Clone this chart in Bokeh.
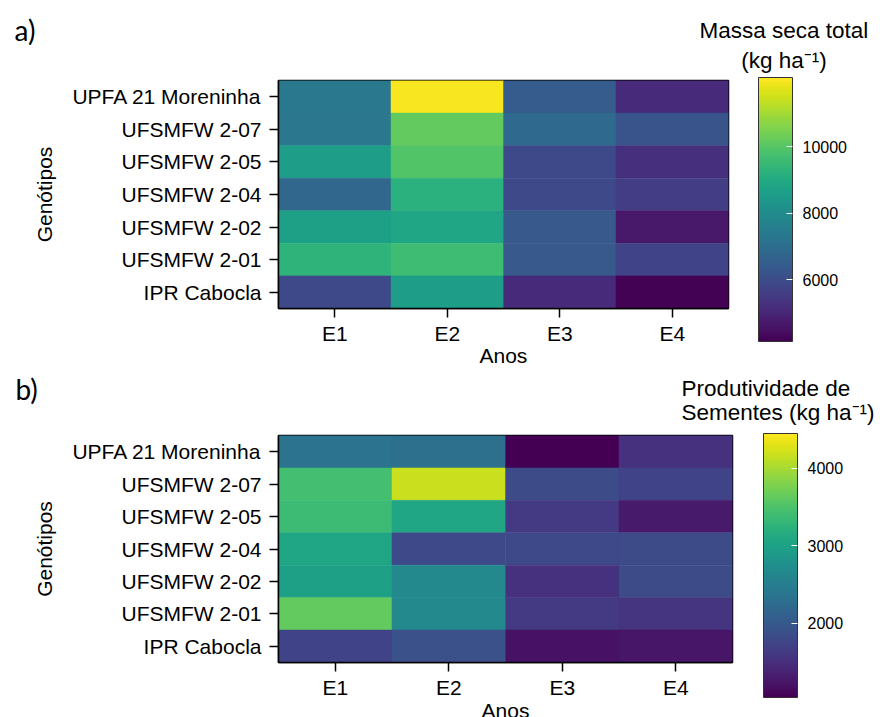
from bokeh.plotting import figure
from bokeh.models import ColorBar, LinearColorMapper, FixedTicker, FactorRange, ColumnDataSource
from bokeh.layouts import column
from bokeh.palettes import Viridis256
from bokeh.embed import file_html
from bokeh.resources import INLINE

genotypes = ["UPFA 21 Moreninha", "UFSMFW 2-07", "UFSMFW 2-05", "UFSMFW 2-04",
             "UFSMFW 2-02", "UFSMFW 2-01", "IPR Cabocla"]
years = ["E1", "E2", "E3", "E4"]

# a) Massa seca total (kg ha-1), rows in genotype order
massa_E1 = [7320, 7300, 8590, 6770, 8670, 9300, 5900]
massa_E2 = [12000, 10180, 9940, 9230, 8830, 9620, 8590]
massa_E3 = [6450, 6850, 5900, 5900, 6370, 6370, 5100]
massa_E4 = [5100, 6210, 5260, 5580, 4700, 5740, 4200]
massa_range = [4150, 12080]
massa_ticks = [6000, 8000, 10000]

# b) Produtividade de sementes (kg ha-1)
prod_E1 = [2340, 3430, 3380, 3050, 2980, 3630, 1720]
prod_E2 = [2300, 4180, 3050, 1790, 2640, 2640, 1890]
prod_E3 = [1050, 1820, 1620, 1790, 1520, 1620, 1210]
prod_E4 = [1520, 1720, 1280, 1820, 1820, 1550, 1240]
prod_range = [1040, 4450]
prod_ticks = [2000, 3000, 4000]

FONT = "Liberation Sans"


def make_source(cols):
    xs, ys, vs = [], [], []
    for yr, col in zip(years, cols):
        for g, v in zip(genotypes, col):
            xs.append(yr)
            ys.append(g)
            vs.append(v)
    return ColumnDataSource(dict(x=xs, y=ys, v=vs))


def heat(cols, rng, left, fw, fh, top, bottom, right, xlabel):
    p = figure(x_range=FactorRange(*years), y_range=FactorRange(*genotypes[::-1]),
               frame_width=fw, frame_height=fh, min_border_left=left,
               min_border_top=top, min_border_bottom=bottom, min_border_right=right,
               toolbar_location=None, output_backend="svg", tools="")
    mapper = LinearColorMapper(palette=Viridis256, low=rng[0], high=rng[1])
    src = make_source(cols)
    p.rect(x="x", y="y", width=1, height=1, source=src,
           fill_color={"field": "v", "transform": mapper},
           line_color={"field": "v", "transform": mapper}, line_width=0.5)
    p.xgrid.visible = False
    p.ygrid.visible = False
    p.outline_line_color = "black"
    p.outline_line_width = 1.5
    p.outline_line_alpha = 1
    for ax in (p.xaxis[0], p.yaxis[0]):
        ax.axis_line_color = "black"
        ax.axis_line_width = 1.5
        ax.major_tick_line_color = "black"
        ax.major_tick_line_width = 1.5
        ax.major_tick_in = 0
        ax.major_tick_out = 9
        ax.minor_tick_line_color = None
        ax.major_label_text_font = FONT
        ax.major_label_text_font_size = "21px"
        ax.major_label_text_color = "black"
        ax.axis_label_text_font = FONT
        ax.axis_label_text_font_size = "21px"
        ax.axis_label_text_font_style = "normal"
        ax.axis_label_text_color = "black"
    p.xaxis.major_label_standoff = 4
    p.yaxis.major_label_standoff = 8
    p.yaxis.axis_label = "Genótipos"
    p.yaxis.axis_label_standoff = 13
    p.xaxis.axis_label = xlabel
    p.xaxis.axis_label_standoff = -3
    return p, mapper


def colorbar(p, mapper, ticks, x, y, h):
    cb = ColorBar(color_mapper=mapper, location=(x, y), width=34, height=h,
                  padding=0, ticker=FixedTicker(ticks=ticks),
                  major_tick_line_color="white", major_tick_in=6, major_tick_out=0,
                  minor_tick_line_color=None, label_standoff=10,
                  major_label_text_font=FONT, major_label_text_font_size="16px",
                  major_label_text_color="black",
                  bar_line_color="#333333", bar_line_width=1,
                  background_fill_alpha=0, border_line_color=None)
    p.add_layout(cb, "center")
    return cb


def text_box(p, mapper, text, x, y, size="22.5px", font=FONT, align="left",
             line_height=1.2, w=20):
    # free-standing text block (not clipped to the frame): a bar-less colour bar title
    tb = ColorBar(color_mapper=mapper, orientation="horizontal", location=(x, y),
                  width=w, height=1, padding=0, scale_alpha=0,
                  bar_line_color=None, ticker=FixedTicker(ticks=[]),
                  major_label_text_alpha=0, major_tick_line_color=None,
                  minor_tick_line_color=None, label_standoff=0,
                  background_fill_alpha=0, border_line_color=None,
                  title=text, title_text_font=font, title_text_font_size=size,
                  title_text_font_style="normal", title_text_color="black",
                  title_text_align=align, title_text_line_height=line_height,
                  title_standoff=0)
    p.add_layout(tb, "center")
    return tb


# panel a
pa, ma = heat([massa_E1, massa_E2, massa_E3, massa_E4], massa_range,
              left=277, fw=450, fh=228, top=80, bottom=64, right=153, xlabel=None)
colorbar(pa, ma, massa_ticks, 480, -33, 264)
text_box(pa, ma, "a)", -264, 261, size="28px", font="Lato", line_height=1.0, w=28)
text_box(pa, ma, "Massa seca total\n(kg ha\u207b\u00b9)", 421, 235, align="center")
text_box(pa, ma, "Anos", 201, -59, size="21px", line_height=1.0, w=48)

# panel b
pb, mb = heat([prod_E1, prod_E2, prod_E3, prod_E4], prod_range,
              left=278, fw=454, fh=227, top=63, bottom=55, right=148, xlabel="Anos")
colorbar(pb, mb, prod_ticks, 485, -35, 264)
text_box(pb, mb, "b)", -263, 256, size="28px", font="Lato", line_height=1.0, w=28)
text_box(pb, mb, "Produtividade de\nSementes (kg ha\u207b\u00b9)", 403, 237, align="left",
         line_height=0.95)

layout = column(pa, pb, spacing=0)
open("out.html", "w").write(file_html(layout, INLINE))
